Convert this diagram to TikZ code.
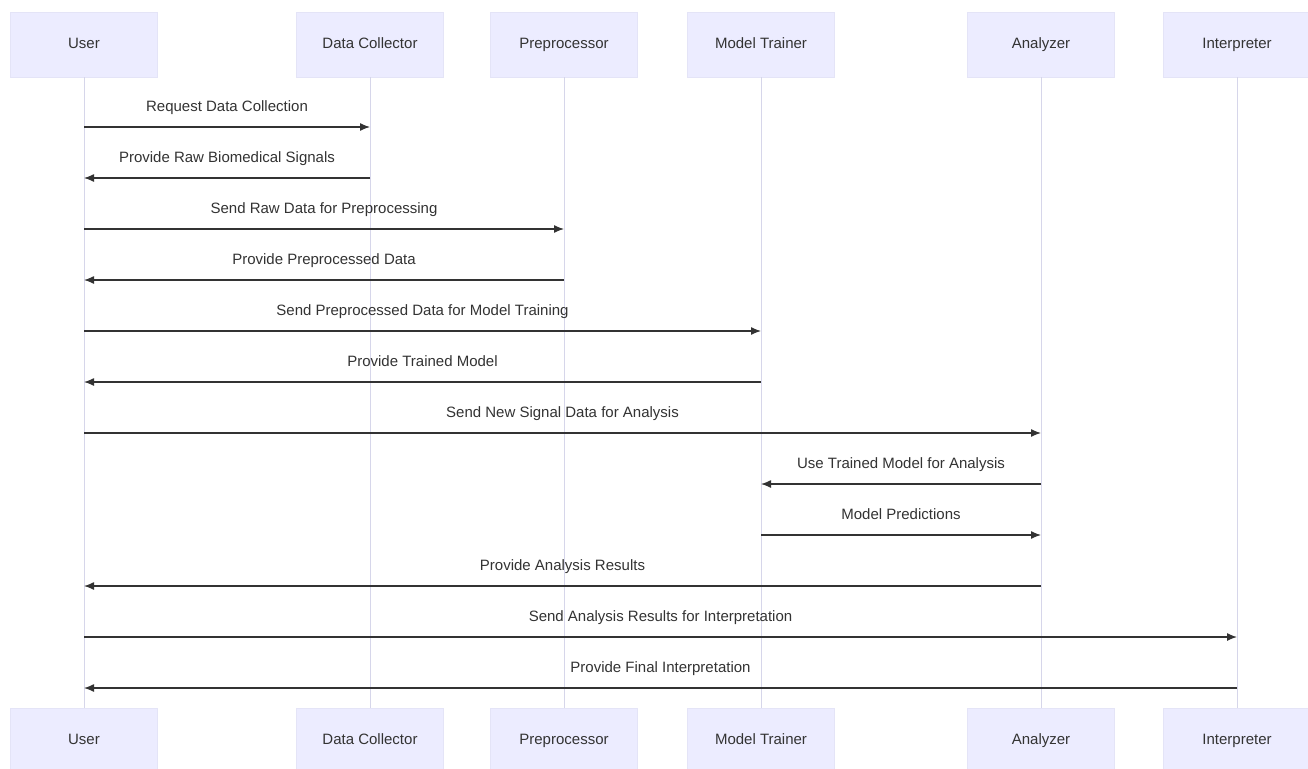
\documentclass[tikz,border=0pt]{standalone}
\usepackage{fontspec}
\setmainfont{Liberation Sans}
\usetikzlibrary{arrows.meta,positioning}
\definecolor{actorbg}{HTML}{ECECFF}
\definecolor{actorline}{HTML}{E4E4F7}
\definecolor{life}{HTML}{D6D6EA}
\definecolor{ink}{HTML}{333333}

\begin{document}
\begin{tikzpicture}[x=1pt,y=-1pt,font=\fontsize{15}{17}\selectfont,>={Latex[length=10pt,width=8pt]},
      a/.style={draw=actorline,fill=actorbg,minimum width=147pt,minimum height=65pt,text=ink,text height=11pt,text depth=3pt},
      l/.style={draw=life,line width=1pt},
      m/.style={->,draw=ink,line width=1.3pt},
      t/.style={text=ink,above=12pt,inner sep=0pt,text height=11pt,text depth=3pt}]
    \useasboundingbox[fill=white] (0,0) rectangle (1308,768);
    % actors, top row
    \node[a] (u) at (84,44.5) {User};
    \node[a] (dc) at (370,44.5) {Data Collector};
    \node[a] (pp) at (564,44.5) {Preprocessor};
    \node[a] (mt) at (761,44.5) {Model Trainer};
    \node[a] (an) at (1041,44.5) {Analyzer};
    \node[a] (ip) at (1237,44.5) {Interpreter};
    % actors, bottom row
    \node[a,below=631pt of u] (ub) {User};
    \node[a,below=631pt of dc] (dcb) {Data Collector};
    \node[a,below=631pt of pp] (ppb) {Preprocessor};
    \node[a,below=631pt of mt] (mtb) {Model Trainer};
    \node[a,below=631pt of an] (anb) {Analyzer};
    \node[a,below=631pt of ip] (ipb) {Interpreter};
    % lifelines
    \draw[l](u)--(ub);\draw[l](dc)--(dcb);\draw[l](pp)--(ppb);
    \draw[l](mt)--(mtb);\draw[l](an)--(anb);\draw[l](ip)--(ipb);
    % message rows
    \foreach \i in {1,...,12} \coordinate (r\i) at (0,76+51*\i);
    \draw[m](u|-r1)--node[t]{Request Data Collection}(dc|-r1);
    \draw[m](dc|-r2)--node[t]{Provide Raw Biomedical Signals}(u|-r2);
    \draw[m](u|-r3)--node[t]{Send Raw Data for Preprocessing}(pp|-r3);
    \draw[m](pp|-r4)--node[t]{Provide Preprocessed Data}(u|-r4);
    \draw[m](u|-r5)--node[t]{Send Preprocessed Data for Model Training}(mt|-r5);
    \draw[m](mt|-r6)--node[t]{Provide Trained Model}(u|-r6);
    \draw[m](u|-r7)--node[t]{Send New Signal Data for Analysis}(an|-r7);
    \draw[m](an|-r8)--node[t]{Use Trained Model for Analysis}(mt|-r8);
    \draw[m](mt|-r9)--node[t]{Model Predictions}(an|-r9);
    \draw[m](an|-r10)--node[t]{Provide Analysis Results}(u|-r10);
    \draw[m](u|-r11)--node[t]{Send Analysis Results for Interpretation}(ip|-r11);
    \draw[m](ip|-r12)--node[t]{Provide Final Interpretation}(u|-r12);
  \end{tikzpicture}
\end{document}
